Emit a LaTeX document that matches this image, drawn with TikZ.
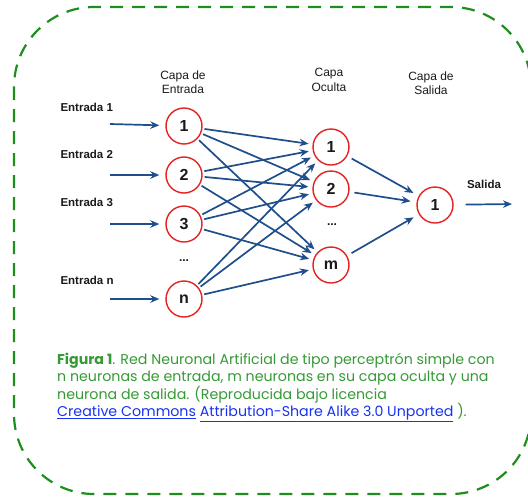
\documentclass[tikz,border=0pt]{standalone}
\usepackage{fontspec}
\setmainfont{Liberation Sans}
\newfontfamily\capfont{Poppins}
\usetikzlibrary{arrows.meta}
\definecolor{edgeblue}{HTML}{1F4E8C}
\definecolor{ringred}{HTML}{E52222}
\definecolor{framegreen}{HTML}{1E8E1E}
\definecolor{capgreen}{HTML}{359A35}
\definecolor{linkblue}{HTML}{1733F0}
\definecolor{ink}{HTML}{1A1A1A}

\begin{document}
\begin{tikzpicture}[x=1pt, y=-1pt, >={Stealth[length=9pt, width=7.5pt]},
  neuron/.style={circle, draw=ringred, line width=1.4pt, fill=white, minimum size=36pt, inner sep=0pt, font=\fontsize{16}{16}\selectfont\bfseries, text=ink},
  conn/.style={->, draw=edgeblue, line width=1.7pt, shorten <=2pt, shorten >=4pt},
  layer/.style={align=center, font=\fontsize{12}{14.5}\selectfont, text=ink},
  inlabel/.style={anchor=west, font=\fontsize{11.5}{12}\selectfont\bfseries, text=ink},
  dots/.style={font=\fontsize{12}{12}\selectfont\bfseries, text=ink}]
\useasboundingbox (0,0) rectangle (528,499);
% —— marco ——
\draw[framegreen, line width=2.2pt, dash pattern=on 13pt off 9pt, rounded corners=80pt] (14,7) rectangle (531,494);
% —— títulos de capa ——
\node[layer] (tin) at (183,82) {Capa de\\Entrada};
\node[layer] (thid) at (329,80) {Capa\\Oculta};
\node[layer] (tout) at (431,83) {Capa de\\Salida};
% —— capa de entrada ——
\node[neuron] (in1) at (184,126) {1};
\node[neuron] (in2) at (184,175) {2};
\node[neuron] (in3) at (184,224) {3};
\node[dots] (indots) at (184,261) {...};
\node[neuron] (inn) at (184,299) {n};
% —— capa oculta ——
\node[neuron] (hid1) at (331,147) {1};
\node[neuron] (hid2) at (331,189) {2};
\node[dots] (hiddots) at (332,225) {...};
\node[neuron] (hidm) at (331,265) {m};
% —— salida ——
\node[neuron] (out1) at (435,205) {1};
% —— entradas ——
\node[inlabel] (lab1) at (57,107) {Entrada 1};
\node[inlabel] (lab2) at (57,154) {Entrada 2};
\node[inlabel] (lab3) at (57,202) {Entrada 3};
\node[inlabel] (labn) at (57,280) {Entrada n};
\foreach \i/\y in {1/124, 2/175, 3/224, n/299}{
  \coordinate (src\i) at (110,\y);
  \draw[conn, shorten <=0pt, shorten >=6pt] (src\i) -- (in\i);
}
% —— conexiones ——
\foreach \i in {1,2,3,n}
  \foreach \j in {1,2,m}
    \draw[conn] (in\i) -- (hid\j);
\foreach \j in {1,2,m}
  \draw[conn, shorten <=5pt, shorten >=6pt] (hid\j) -- (out1);
% —— salida ——
\node[inlabel, anchor=center] (labout) at (484,184) {Salida};
\coordinate (sink) at (512,204);
\draw[conn, shorten <=12pt, shorten >=0pt] (out1) -- (sink);
% —— pie de figura ——
\node[anchor=north west, align=left, text=capgreen, inner sep=0pt,
  font=\capfont\fontsize{14.2}{17.3}\selectfont] (caption) at (57,353)
  {{\bfseries Figura 1}. Red Neuronal Artificial de tipo perceptrón simple con\\
   n neuronas de entrada, m neuronas en su capa oculta y una\\
   neurona de salida. (Reproducida bajo licencia\\
   \textcolor{linkblue}{\underline{Creative Commons}} \textcolor{linkblue}{\underline{Attribution-Share Alike 3.0 Unported}} ).};
\end{tikzpicture}
\end{document}
